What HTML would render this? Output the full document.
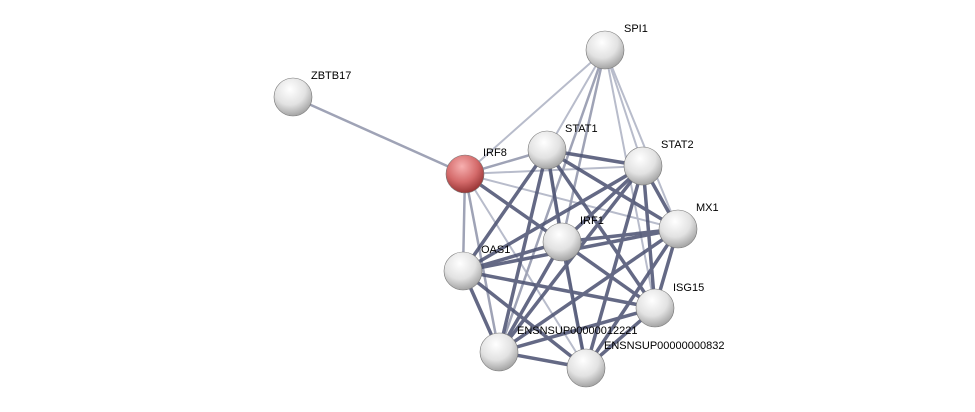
<!DOCTYPE html>
<html><head><meta charset="utf-8"><style>
html,body{margin:0;padding:0;background:#fff;}
svg{display:block;}
text{font-family:"Liberation Sans",sans-serif;font-size:11px;fill:#000;}
</style></head><body>
<svg width="975" height="412" viewBox="0 0 975 412">
<defs>
<radialGradient id="g" cx="0.42" cy="0.3" r="0.75">
<stop offset="0" stop-color="#ffffff"/><stop offset="0.55" stop-color="#e2e2e2"/><stop offset="1" stop-color="#9a9a9a"/>
</radialGradient>
<radialGradient id="r" cx="0.42" cy="0.3" r="0.75">
<stop offset="0" stop-color="#f7b0b0"/><stop offset="0.55" stop-color="#d46a6a"/><stop offset="1" stop-color="#8e2c2c"/>
</radialGradient>
</defs>
<g stroke-linecap="round">
<!-- light edges -->
<g stroke="#b8bccb" stroke-width="2">
<line x1="605" y1="50" x2="465" y2="174"/>
<line x1="605" y1="50" x2="643" y2="166"/>
<line x1="605" y1="50" x2="678" y2="229"/>
<line x1="605" y1="50" x2="655" y2="308"/>
<line x1="605" y1="50" x2="547" y2="150"/>
<line x1="465" y1="174" x2="678" y2="229"/>
<line x1="465" y1="174" x2="643" y2="166"/>
<line x1="465" y1="174" x2="586" y2="368"/>
<line x1="547" y1="150" x2="586" y2="368"/>
</g>
<g stroke="#9fa3b6" stroke-width="2.5">
<line x1="293" y1="97" x2="465" y2="174"/>
<line x1="605" y1="50" x2="562" y2="242"/>
<line x1="605" y1="50" x2="499" y2="352"/>
<line x1="465" y1="174" x2="547" y2="150"/>
<line x1="465" y1="174" x2="463" y2="271"/>
<line x1="465" y1="174" x2="499" y2="352"/>
</g>
<!-- dark edges -->
<g stroke="#4a5070" stroke-width="3.5" opacity="0.85">
<line x1="465" y1="174" x2="562" y2="242"/>
<line x1="547" y1="150" x2="643" y2="166"/>
<line x1="547" y1="150" x2="678" y2="229"/>
<line x1="547" y1="150" x2="562" y2="242"/>
<line x1="547" y1="150" x2="463" y2="271"/>
<line x1="547" y1="150" x2="655" y2="308"/>
<line x1="547" y1="150" x2="499" y2="352"/>
<line x1="643" y1="166" x2="678" y2="229"/>
<line x1="643" y1="166" x2="562" y2="242"/>
<line x1="643" y1="166" x2="463" y2="271"/>
<line x1="643" y1="166" x2="655" y2="308"/>
<line x1="643" y1="166" x2="499" y2="352"/>
<line x1="643" y1="166" x2="586" y2="368"/>
<line x1="678" y1="229" x2="562" y2="242"/>
<line x1="678" y1="229" x2="463" y2="271"/>
<line x1="678" y1="229" x2="655" y2="308"/>
<line x1="678" y1="229" x2="499" y2="352"/>
<line x1="678" y1="229" x2="586" y2="368"/>
<line x1="562" y1="242" x2="463" y2="271"/>
<line x1="562" y1="242" x2="655" y2="308"/>
<line x1="562" y1="242" x2="499" y2="352"/>
<line x1="562" y1="242" x2="586" y2="368"/>
<line x1="463" y1="271" x2="655" y2="308"/>
<line x1="463" y1="271" x2="499" y2="352"/>
<line x1="463" y1="271" x2="586" y2="368"/>
<line x1="655" y1="308" x2="499" y2="352"/>
<line x1="655" y1="308" x2="586" y2="368"/>
<line x1="499" y1="352" x2="586" y2="368"/>
</g>
</g>
<g stroke="#777" stroke-width="0.6">
<circle cx="605" cy="50" r="19" fill="url(#g)"/>
<circle cx="293" cy="97" r="19" fill="url(#g)"/>
<circle cx="465" cy="174" r="19" fill="url(#r)"/>
<circle cx="547" cy="150" r="19" fill="url(#g)"/>
<circle cx="643" cy="166" r="19" fill="url(#g)"/>
<circle cx="678" cy="229" r="19" fill="url(#g)"/>
<circle cx="562" cy="242" r="19" fill="url(#g)"/>
<circle cx="463" cy="271" r="19" fill="url(#g)"/>
<circle cx="655" cy="308" r="19" fill="url(#g)"/>
<circle cx="499" cy="352" r="19" fill="url(#g)"/>
<circle cx="586" cy="368" r="19" fill="url(#g)"/>
</g>
<text x="624" y="32">SPI1</text>
<text x="311" y="79">ZBTB17</text>
<text x="483" y="156">IRF8</text>
<text x="565" y="132">STAT1</text>
<text x="661" y="148">STAT2</text>
<text x="696" y="211">MX1</text>
<text x="580" y="224">IRF1</text>
<text x="481" y="253">OAS1</text>
<text x="673" y="291">ISG15</text>
<text x="517" y="334">ENSNSUP00000012221</text>
<text x="604" y="349">ENSNSUP00000000832</text>
</svg>
</body></html>
